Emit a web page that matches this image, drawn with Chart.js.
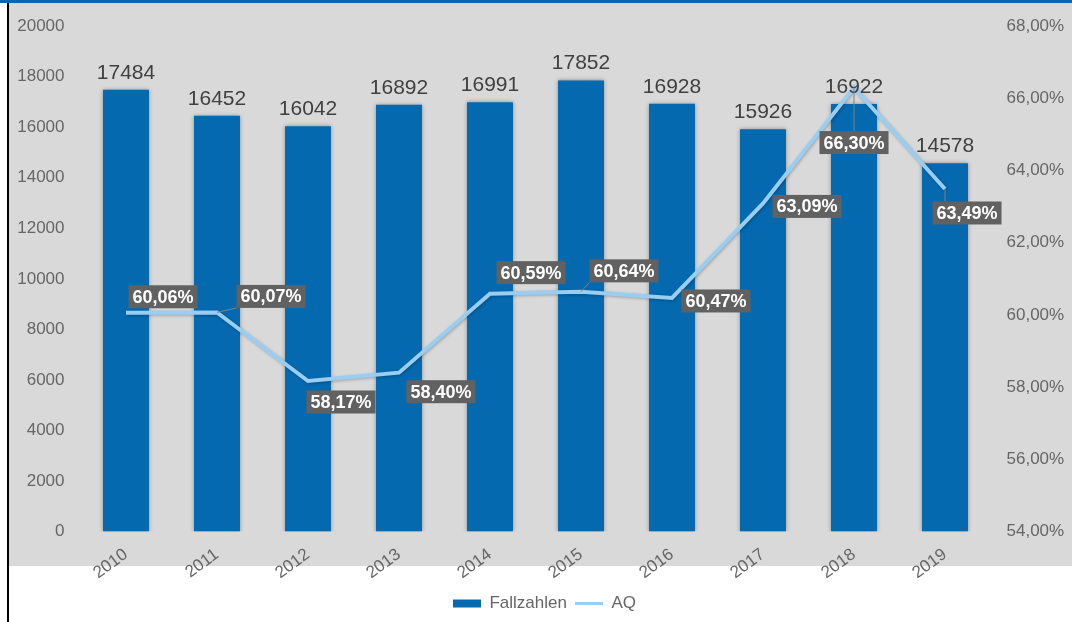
<!DOCTYPE html>
<html>
<head>
<meta charset="utf-8">
<script src="https://cdn.jsdelivr.net/npm/chart.js@4"></script>
<style>
html,body{margin:0;padding:0;background:#fff;overflow:hidden;}
#wrap{position:relative;width:1072px;height:622px;}
canvas{display:block;}
</style>
</head>
<body>
<div id="wrap"><canvas id="c" width="1072" height="622"></canvas></div>
<script>
// ---- data ----
const years = ['2010','2011','2012','2013','2014','2015','2016','2017','2018','2019'];
const fallzahlen = [17484,16452,16042,16892,16991,17852,16928,15926,16922,14578];
const aq = [60.06,60.07,58.17,58.40,60.59,60.64,60.47,63.09,66.30,63.49];
const leftTicks = [0,2000,4000,6000,8000,10000,12000,14000,16000,18000,20000];
const rightTicks = [54,56,58,60,62,64,66,68];

// label placement (offsets of AQ label boxes from their points)
const aqLabelOffsets = [[37,-16],[54,-16],[33,21],[42,19],[41,-21],[43,-21],[44,3],[44,3],[0,55],[22,24]];

const FONT = "'Liberation Sans', Arial, sans-serif";
const fmtPct = v => v.toFixed(2).replace('.', ',') + '%';

const frame = {
  id: 'frame',
  beforeDraw(chart) {
    const ctx = chart.ctx;
    ctx.save();
    ctx.fillStyle = '#ffffff';
    ctx.fillRect(0, 0, 1072, 622);
    ctx.fillStyle = '#d9d9d9';
    ctx.fillRect(9, 3, 1063, 563);
    ctx.fillStyle = '#0766ad';
    ctx.fillRect(0, 0, 1072, 3);
    ctx.fillStyle = '#000000';
    ctx.fillRect(7, 3, 2, 619);
    ctx.restore();
  }
};

const shadows = {
  id: 'shadows',
  beforeDatasetDraw(chart, args) {
    const ctx = chart.ctx;
    ctx.save();
    if (args.index === 0) {
      ctx.shadowColor = 'rgba(0,0,0,0.35)';
      ctx.shadowBlur = 4;
      ctx.shadowOffsetX = 0;
      ctx.shadowOffsetY = 0;
    } else {
      ctx.shadowColor = 'rgba(0,0,0,0.25)';
      ctx.shadowBlur = 3;
      ctx.shadowOffsetX = 1;
      ctx.shadowOffsetY = 1;
    }
  },
  afterDatasetDraw(chart) {
    chart.ctx.restore();
  }
};

const labels = {
  id: 'labels',
  afterDatasetsDraw(chart) {
    const ctx = chart.ctx;
    ctx.save();
    // bar value labels
    const barMeta = chart.getDatasetMeta(0);
    ctx.font = '21px ' + FONT;
    ctx.fillStyle = '#404040';
    ctx.textAlign = 'center';
    ctx.textBaseline = 'alphabetic';
    barMeta.data.forEach((bar, i) => {
      ctx.fillText(String(fallzahlen[i]), bar.x, bar.y - 11);
    });
    // AQ labels
    const lineMeta = chart.getDatasetMeta(1);
    ctx.font = 'bold 18px ' + FONT;
    lineMeta.data.forEach((pt, i) => {
      const txt = fmtPct(aq[i]);
      const w = ctx.measureText(txt).width + 8;
      const h = 23;
      const cx = pt.x + aqLabelOffsets[i][0];
      const cy = pt.y + aqLabelOffsets[i][1];
      const bx = cx - w / 2, by = cy - h / 2;
      // leader line
      const nx = Math.max(bx, Math.min(pt.x, bx + w));
      const ny = Math.max(by, Math.min(pt.y, by + h));
      const d = Math.hypot(nx - pt.x, ny - pt.y);
      if (d > 12) {
        ctx.strokeStyle = '#808080';
        ctx.lineWidth = 1;
        ctx.beginPath();
        ctx.moveTo(pt.x, pt.y);
        ctx.lineTo(nx, ny);
        ctx.stroke();
      }
      ctx.fillStyle = '#616161';
      ctx.fillRect(bx, by, w, h);
      ctx.fillStyle = '#ffffff';
      ctx.textAlign = 'center';
      ctx.textBaseline = 'middle';
      ctx.fillText(txt, cx, cy + 1);
    });
    ctx.restore();
  }
};

new Chart(document.getElementById('c'), {
  data: {
    labels: years,
    datasets: [
      {
        type: 'bar',
        label: 'Fallzahlen',
        data: fallzahlen,
        backgroundColor: '#0469af',
        borderWidth: 0,
        yAxisID: 'y',
        order: 2,
        categoryPercentage: 1,
        barPercentage: 0.505
      },
      {
        type: 'line',
        label: 'AQ',
        data: aq,
        borderColor: '#99cdf2',
        backgroundColor: '#99cdf2',
        borderWidth: 4,
        pointRadius: 0,
        tension: 0,
        yAxisID: 'y1',
        order: 1
      }
    ]
  },
  options: {
    responsive: false,
    animation: false,
    devicePixelRatio: 1,
    layout: { padding: { left: 17, right: 0, top: 22, bottom: 0 } },
    plugins: {
      tooltip: { enabled: false },
      legend: {
        position: 'bottom',
        labels: {
          usePointStyle: true,
          pointStyleWidth: 28,
          boxHeight: 8,
          padding: 8,
          color: '#666666',
          font: { family: FONT, size: 17 },
          generateLabels(chart) {
            return [
              { text: 'Fallzahlen', fillStyle: '#0469af', strokeStyle: '#0469af', lineWidth: 0, pointStyle: 'rect', datasetIndex: 0, fontColor: '#666666' },
              { text: 'AQ', fillStyle: '#99cdf2', strokeStyle: '#99cdf2', lineWidth: 3, pointStyle: 'line', datasetIndex: 1, fontColor: '#666666' }
            ];
          }
        }
      }
    },
    scales: {
      x: {
        grid: { display: false, drawTicks: false },
        border: { display: false },
        ticks: {
          color: '#666666',
          font: { family: FONT, size: 17 },
          minRotation: 36,
          maxRotation: 36,
          padding: 13
        },
        afterFit(s) { s.height = 55.5; }
      },
      y: {
        position: 'left',
        min: 0,
        max: 20000,
        afterBuildTicks(s) { s.ticks = leftTicks.map(v => ({ value: v })); },
        grid: { display: false, drawTicks: false },
        border: { display: false },
        ticks: {
          color: '#666666',
          font: { family: FONT, size: 17 },
          padding: 16,
          callback: v => String(v)
        },
        afterFit(s) { s.width = 63.5; }
      },
      y1: {
        position: 'right',
        min: 54,
        max: 68,
        afterBuildTicks(s) { s.ticks = rightTicks.map(v => ({ value: v })); },
        grid: { display: false, drawTicks: false },
        border: { display: false },
        ticks: {
          color: '#666666',
          font: { family: FONT, size: 17 },
          padding: 16,
          callback: v => fmtPct(v)
        },
        afterFit(s) { s.width = 81.5; }
      }
    }
  },
  plugins: [frame, shadows, labels]
});
</script>
</body>
</html>
